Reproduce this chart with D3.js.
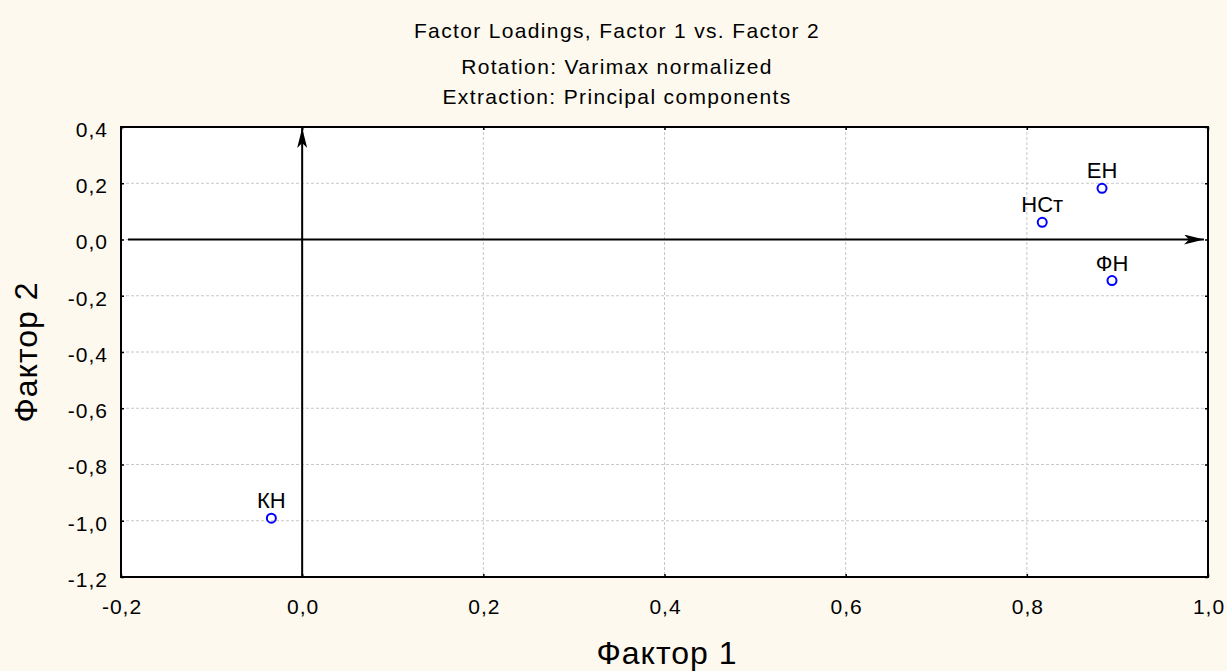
<!DOCTYPE html>
<html><head><meta charset="utf-8">
<script src="https://cdn.jsdelivr.net/npm/d3@7/dist/d3.min.js"></script>
<style>html,body{margin:0;padding:0;background:#fdf9ee;}svg{display:block;}</style>
</head><body>
<script>
const names = ["ЕН", "НСт", "ФН", "КН"];
const factor1 = [0.883, 0.817, 0.894, -0.034];
const factor2 = [0.182, 0.061, -0.146, -0.991];
const xTicks = [-0.2, 0.0, 0.2, 0.4, 0.6, 0.8, 1.0];
const yTicks = [0.4, 0.2, 0.0, -0.2, -0.4, -0.6, -0.8, -1.0, -1.2];
const titles = ["Factor Loadings, Factor 1 vs. Factor 2", "Rotation: Varimax normalized", "Extraction: Principal components"];
const xTitle = "Фактор 1", yTitle = "Фактор 2";

const W = 1227, H = 671;
const m = {l:121, r:1208, t:127, b:577};
const font = "'Liberation Sans', Arial, sans-serif";
const svg = d3.select("body").append("svg").attr("width", W).attr("height", H);
svg.append("rect").attr("width", W).attr("height", H).attr("fill", "#fdf9ee");

const x = d3.scaleLinear().domain([-0.2, 1.0]).range([m.l, m.r]);
const y = d3.scaleLinear().domain([-1.2, 0.4]).range([m.b, m.t]);
const fmt = d => d3.format(".1f")(d).replace(".", ",").replace("−", "-");

svg.append("rect").attr("x", m.l).attr("y", m.t).attr("width", m.r - m.l).attr("height", m.b - m.t).attr("fill", "#fff");

// grid
const g = svg.append("g");
g.selectAll(".vx").data(xTicks.slice(1, -1)).join("line")
  .attr("x1", d => x(d)).attr("x2", d => x(d)).attr("y1", m.t).attr("y2", m.b)
  .attr("stroke", "#c8c8c8").attr("stroke-dasharray", "3,2").attr("stroke-width", 1);
g.selectAll(".hy").data(yTicks.slice(1, -1)).join("line")
  .attr("y1", d => y(d)).attr("y2", d => y(d)).attr("x1", m.l).attr("x2", m.r)
  .attr("stroke", "#c8c8c8").attr("stroke-dasharray", "3,2").attr("stroke-width", 1);

// axes via d3 (inner ticks)
const xAx = svg.append("g").attr("transform", `translate(0,${m.b})`)
  .call(d3.axisBottom(x).tickValues(xTicks).tickSizeInner(-3).tickSizeOuter(0).tickPadding(22).tickFormat(fmt));
const xAxT = svg.append("g").attr("transform", `translate(0,${m.t})`)
  .call(d3.axisTop(x).tickValues(xTicks).tickSizeInner(-3).tickSizeOuter(0).tickFormat(""));
const yAx = svg.append("g").attr("transform", `translate(${m.l},0)`)
  .call(d3.axisLeft(y).tickValues(yTicks).tickSizeInner(-3).tickSizeOuter(0).tickPadding(13).tickFormat(fmt));
const yAxR = svg.append("g").attr("transform", `translate(${m.r},0)`)
  .call(d3.axisRight(y).tickValues(yTicks).tickSizeInner(-3).tickSizeOuter(0).tickFormat(""));
[xAx, xAxT, yAx, yAxR].forEach(a => {
  a.select(".domain").remove();
  a.selectAll("line").attr("stroke", "#000").attr("stroke-width", 1.5);
  a.selectAll("text").attr("font-family", font).attr("font-size", 21).attr("letter-spacing", "1px").attr("fill", "#000");
});
yAx.selectAll("text").attr("dy", "0.45em");
xAx.selectAll("text").attr("dx", "0.5px");

svg.append("rect").attr("x", m.l).attr("y", m.t).attr("width", m.r - m.l).attr("height", m.b - m.t)
  .attr("fill", "none").attr("stroke", "#000").attr("stroke-width", 2);

// arrows
const defs = svg.append("defs");
defs.append("marker").attr("id", "arr").attr("viewBox", "0 0 20 10").attr("refX", 20).attr("refY", 5)
  .attr("markerWidth", 20).attr("markerHeight", 10).attr("markerUnits", "userSpaceOnUse").attr("orient", "auto")
  .append("path").attr("d", "M0,0 L20,5 L0,10 L5,5 Z").attr("fill", "#000");
svg.append("line").attr("x1", x(0)).attr("x2", x(0)).attr("y1", m.b).attr("y2", m.t + 1)
  .attr("stroke", "#000").attr("stroke-width", 2).attr("marker-end", "url(#arr)");
svg.append("line").attr("x1", m.l + 7).attr("x2", m.r - 4).attr("y1", y(0)).attr("y2", y(0))
  .attr("stroke", "#000").attr("stroke-width", 2).attr("marker-end", "url(#arr)");

// points
const pts = names.map((n, i) => ({n, a: factor1[i], b: factor2[i]}));
svg.selectAll(".pt").data(pts).join("circle")
  .attr("cx", d => x(d.a)).attr("cy", d => y(d.b)).attr("r", 4.5)
  .attr("fill", "none").attr("stroke", "#0000ff").attr("stroke-width", 2);
svg.selectAll(".lb").data(pts).join("text")
  .attr("x", d => x(d.a)).attr("y", d => y(d.b) - 10).attr("text-anchor", "middle")
  .attr("font-family", font).attr("font-size", 22).attr("fill", "#000").text(d => d.n);

// titles
const ty = [38, 74, 104];
svg.selectAll(".tt").data(titles).join("text")
  .attr("x", 617).attr("y", (d, i) => ty[i]).attr("text-anchor", "middle")
  .attr("font-family", font).attr("font-size", 21).attr("letter-spacing", "1.35px").attr("fill", "#000").text(d => d);

svg.append("text").attr("x", 667).attr("y", 664).attr("text-anchor", "middle")
  .attr("font-family", font).attr("font-size", 32).attr("letter-spacing", "1px").attr("fill", "#000").text(xTitle);
svg.append("text").attr("transform", `translate(37,${(m.t + m.b) / 2}) rotate(-90)`).attr("text-anchor", "middle")
  .attr("font-family", font).attr("font-size", 32).attr("letter-spacing", "1px").attr("fill", "#000").text(yTitle);
</script>
</body></html>
